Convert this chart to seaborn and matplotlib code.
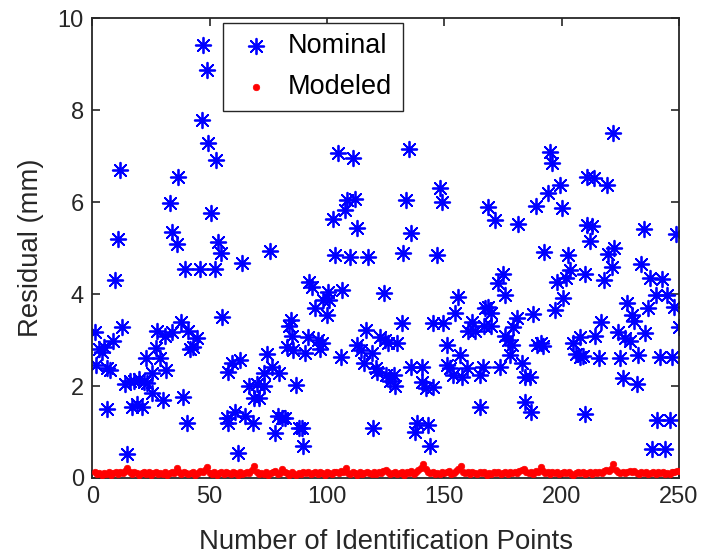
import matplotlib
matplotlib.use("Agg")
import matplotlib.pyplot as plt
import seaborn as sns
import pandas as pd

# Nominal residuals (x = identification point index, y = residual in mm)
nominal_x = [1, 1.5, 3, 4, 5, 6.5, 6.5, 7.5, 9, 9.5, 11, 12, 12.5,
             14, 15, 16, 17, 18, 19, 20, 21, 22, 23, 23.5, 25.5, 25.5,
             27, 27.7, 29, 30, 31, 31.5, 33, 34, 34, 36, 36.7, 38, 38.8, 39.6, 40.5, 40.9,
             41.5, 43, 44.5, 46, 46.8, 47.3, 49, 49.4, 50.7, 52.4, 52.8, 53.7, 55, 55.4,
             57.5, 58, 58, 59.6, 61, 62, 63, 64, 65, 67, 68.6, 69,
             70, 71, 73, 73, 74.5, 75.8, 76.7, 78, 79, 79.5, 81, 82, 83, 84, 84.8, 85,
             85.6, 87, 88, 89.4, 89.8, 90.7, 92, 92.4, 93.7, 95, 96, 97, 98, 98.4, 100, 100.5,
             101, 102.6, 103.5, 104.8, 106, 106.5, 107.7, 108.6, 110, 111, 112, 113, 113,
             114.6, 116, 116.7, 117.5, 119, 119.7, 121, 121.5, 122.6, 124.4, 124.8, 125,
             126, 127, 128.5, 129, 130, 132, 132.5, 133.7, 135, 136, 136, 137.5, 138.4,
             140.5, 140.5, 142, 143, 144, 145, 145, 147, 148, 149, 149.5,
             151, 151, 152.5, 153.7, 154.6, 156, 156.7, 157.5, 159.7, 160, 162, 163, 165, 165,
             166.5, 167, 167.4, 168.5, 168.7, 170, 170,
             171.6, 173, 173.8, 175, 176, 176, 177, 178, 179, 179.3, 181, 181.4, 183, 184.4,
             184.4, 186.5, 187, 188, 189, 189.5,
             191, 192, 192.5, 194, 195, 196, 197, 198, 199.3, 200, 200.6, 202, 202.7, 203.6,
             205, 206, 208, 208, 209, 210, 210,
             211, 211, 212, 213, 213.8, 214, 216, 216.8, 218, 219.3, 219.8, 221.5, 222, 222.3,
             224, 225, 226, 227, 228, 229, 230,
             231, 232, 232.5, 234, 235, 235.5, 236.8, 237.6, 238.5, 240, 240.6, 242, 242.8,
             244, 245, 246, 247, 248, 248.7, 250]
nominal_y = [3.17, 2.45, 2.8, 2.75, 2.85, 2.4, 1.5, 2.35, 2.98, 4.3, 5.2, 6.7, 3.28,
             2.05, 0.52, 2.1, 1.55, 2.12, 1.6, 2.15, 1.55, 2.08, 2.6, 2.07, 2.28, 1.85,
             2.83, 3.2, 2.6, 1.7, 3.1, 2.35, 5.98, 3.17, 5.35, 5.1, 6.55, 3.4, 1.76, 4.54, 1.2, 3.2,
             2.8, 2.85, 3.05, 4.54, 7.8, 9.43, 8.87, 7.28, 5.76, 4.54, 6.93, 5.13, 4.9, 3.5,
             1.3, 1.2, 2.3, 2.5, 1.43, 0.54, 2.57, 4.67, 1.35, 2.0, 1.2, 1.75,
             2.05, 1.75, 2.0, 2.28, 2.7, 4.93, 2.41, 0.98, 1.35, 2.28, 1.3, 1.3, 2.85, 3.3, 3.43, 3.1,
             2.78, 2.02, 1.09, 1.09, 0.7, 2.72, 3.07, 4.26, 4.15, 3.7, 3.0, 2.8, 2.93, 3.87, 3.54, 4.04,
             3.87, 5.63, 4.85, 7.07, 2.63, 4.09, 5.83, 6.04, 4.8, 6.96, 6.08, 5.45, 2.89,
             2.78, 2.5, 3.22, 4.8, 2.72, 1.09, 2.4, 2.3, 3.07, 4.02, 3.0, 2.24,
             2.93, 2.1, 2.24, 2.0, 2.93, 3.37, 4.89, 6.04, 7.15, 5.33, 2.41, 1.0, 1.2,
             2.41, 2.09, 1.96, 1.15, 0.7, 1.98, 3.37, 4.85, 6.3, 6.0, 3.37,
             2.9, 2.45, 2.39, 2.24, 3.59, 3.94, 2.67, 2.2, 2.39, 3.2, 3.4, 3.2, 2.24, 1.54,
             2.41, 3.3, 3.7, 3.72, 5.89, 3.59, 3.3,
             5.61, 4.24, 2.41, 4.43, 3.98, 3.1, 3.0, 2.67, 2.89, 3.28, 3.48, 5.52, 2.5, 2.2,
             1.65, 2.2, 1.43, 3.57, 5.91, 2.9,
             2.93, 2.88, 4.91, 6.2, 7.1, 6.85, 3.65, 4.26, 6.37, 5.87, 3.91, 4.35, 4.85, 4.52,
             2.93, 2.7, 3.07, 2.63, 2.65, 4.43, 1.39,
             6.54, 5.5, 5.15, 5.48, 6.52, 3.09, 2.6, 3.4, 4.3, 6.37, 4.87, 4.59, 7.5, 5.0,
             3.17, 2.6, 2.17, 3.04, 3.8, 2.98, 3.54,
             3.41, 2.04, 2.67, 4.65, 5.41, 3.15, 3.7, 4.35, 0.63, 3.98, 1.26, 2.63, 4.33,
             0.63, 3.98, 1.26, 2.63, 3.72, 5.3, 3.28]

# Modeled residuals, one per identification point 1..250
modeled_x = list(range(1, 251))
modeled_y = [0.12, 0.08, 0.10, 0.06, 0.11, 0.09, 0.13, 0.07, 0.10, 0.12,
             0.08, 0.14, 0.10, 0.15, 0.22, 0.12, 0.09, 0.13, 0.10, 0.07,
             0.11, 0.14, 0.09, 0.12, 0.06, 0.10, 0.13, 0.08, 0.11, 0.09,
             0.12, 0.07, 0.10, 0.14, 0.11, 0.22, 0.13, 0.09, 0.12, 0.10,
             0.08, 0.11, 0.13, 0.06, 0.10, 0.15, 0.12, 0.18, 0.24, 0.11,
             0.09, 0.13, 0.07, 0.10, 0.12, 0.08, 0.14, 0.11, 0.09, 0.12,
             0.10, 0.06, 0.13, 0.09, 0.11, 0.14, 0.10, 0.18, 0.26, 0.12,
             0.08, 0.11, 0.09, 0.13, 0.07, 0.10, 0.12, 0.15, 0.09, 0.11,
             0.20, 0.13, 0.10, 0.07, 0.12, 0.09, 0.06, 0.11, 0.08, 0.13,
             0.10, 0.12, 0.08, 0.11, 0.14, 0.09, 0.12, 0.10, 0.07, 0.13,
             0.11, 0.09, 0.14, 0.12, 0.10, 0.16, 0.13, 0.22, 0.11, 0.08,
             0.12, 0.10, 0.07, 0.13, 0.09, 0.11, 0.14, 0.10, 0.08, 0.12,
             0.09, 0.13, 0.11, 0.15, 0.18, 0.12, 0.08, 0.10, 0.14, 0.09,
             0.11, 0.13, 0.07, 0.12, 0.10, 0.15, 0.09, 0.13, 0.18, 0.22,
             0.30, 0.19, 0.12, 0.10, 0.14, 0.09, 0.11, 0.08, 0.13, 0.10,
             0.12, 0.15, 0.09, 0.11, 0.16, 0.20, 0.26, 0.14, 0.10, 0.12,
             0.09, 0.13, 0.11, 0.08, 0.12, 0.10, 0.14, 0.07, 0.11, 0.09,
             0.13, 0.10, 0.12, 0.08, 0.11, 0.14, 0.09, 0.12, 0.10, 0.13,
             0.11, 0.15, 0.18, 0.20, 0.13, 0.10, 0.12, 0.09, 0.16, 0.14,
             0.24, 0.15, 0.11, 0.13, 0.09, 0.12, 0.10, 0.14, 0.08, 0.11,
             0.13, 0.10, 0.12, 0.09, 0.07, 0.11, 0.14, 0.10, 0.12, 0.08,
             0.11, 0.13, 0.09, 0.12, 0.10, 0.14, 0.11, 0.15, 0.18, 0.16,
             0.20, 0.30, 0.17, 0.13, 0.11, 0.14, 0.10, 0.12, 0.16, 0.13,
             0.15, 0.11, 0.09, 0.13, 0.10, 0.12, 0.08, 0.11, 0.14, 0.09,
             0.12, 0.10, 0.13, 0.08, 0.11, 0.09, 0.12, 0.14, 0.16, 0.15]

x_ticks = [0, 50, 100, 150, 200, 250]
y_ticks = [0, 2, 4, 6, 8, 10]
x_label = "Number of Identification Points"
y_label = "Residual (mm)"

sns.set_theme(style="white")
plt.rcParams["font.family"] = ["Liberation Sans", "DejaVu Sans"]

dark = "#262626"
fig = plt.figure(figsize=(7.04, 5.59), dpi=100)
ax = fig.add_axes([0.131, 0.145, 0.8335, 0.822])

nom_df = pd.DataFrame({"x": nominal_x, "y": nominal_y})
mod_df = pd.DataFrame({"x": modeled_x, "y": modeled_y})

sns.scatterplot(data=nom_df, x="x", y="y", ax=ax, marker=(8, 2, 0), s=125,
                color="#0000ff", linewidth=1.3, label="Nominal", zorder=2)
sns.scatterplot(data=mod_df, x="x", y="y", ax=ax, marker="o", s=22,
                color="#ff0000", edgecolor="#ff0000", linewidth=0.5,
                label="Modeled", zorder=3)

ax.set_xlim(0, 250)
ax.set_ylim(0, 10)
ax.set_xticks(x_ticks)
ax.set_yticks(y_ticks)
ax.set_xlabel(x_label, fontsize=19.8, color=dark, labelpad=15)
ax.set_ylabel(y_label, fontsize=19.8, color=dark, labelpad=10)
ax.tick_params(axis="both", direction="in", length=6, width=1.2, colors=dark,
               labelsize=17, top=True, right=True, bottom=True, left=True, pad=6)
for sp in ax.spines.values():
    sp.set_visible(True)
    sp.set_color(dark)
    sp.set_linewidth(1.3)

leg = ax.legend(loc="upper left", bbox_to_anchor=(0.223, 0.991), borderaxespad=0,
                fontsize=19.5, frameon=True, fancybox=False, framealpha=1,
                edgecolor=dark, handletextpad=0.4, borderpad=0.4,
                labelspacing=0.55, handlelength=1.6, markerscale=1.0)
leg.get_frame().set_linewidth(1.0)
for t in leg.get_texts():
    t.set_color("black")

fig.savefig("out.png", dpi=100)
